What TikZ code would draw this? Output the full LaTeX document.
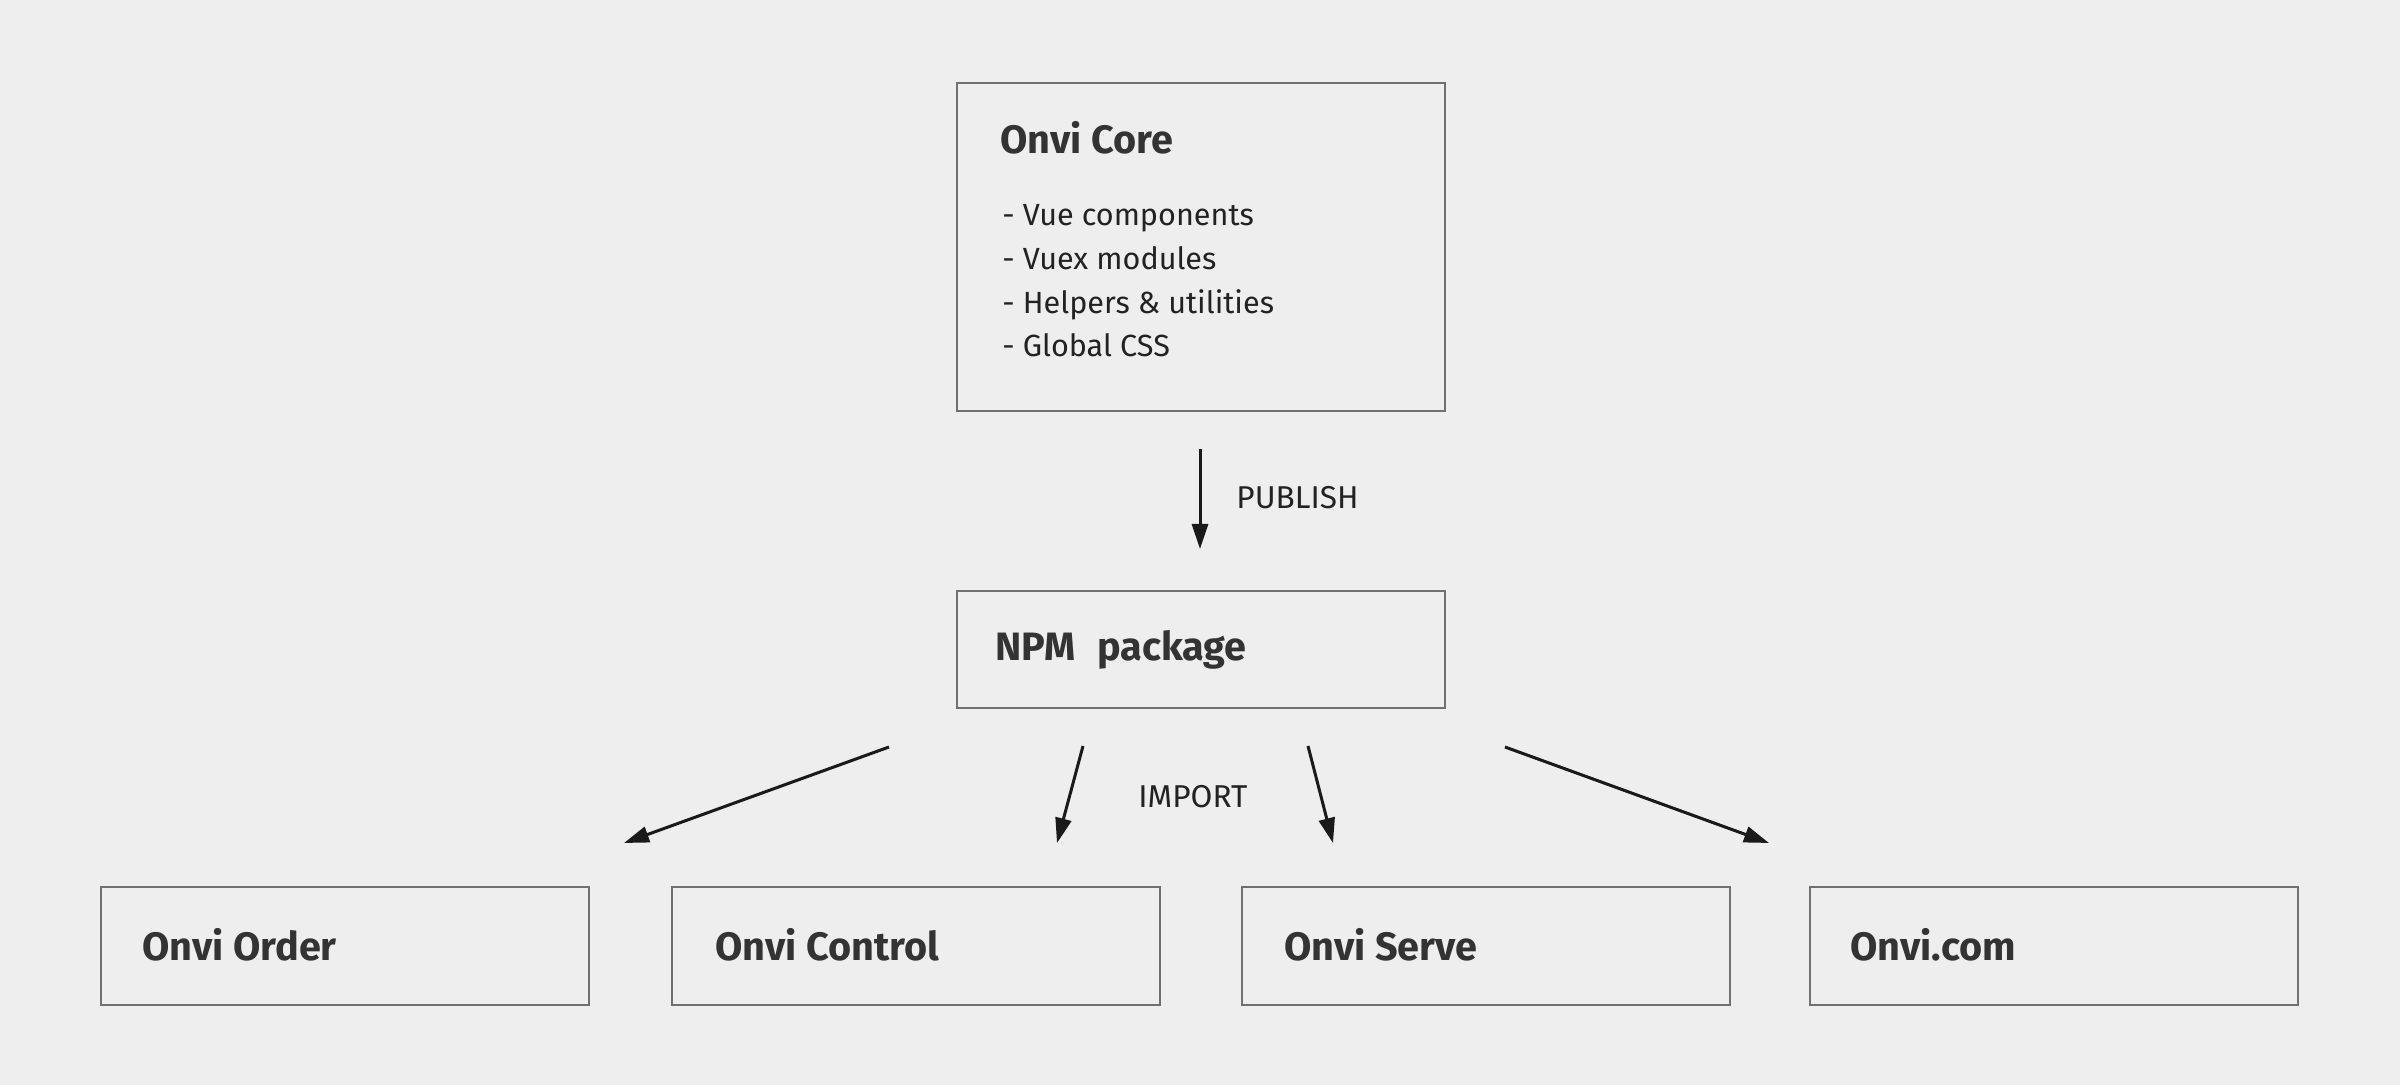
\documentclass[tikz,border=0pt]{standalone}
\usepackage{fontspec}
\setmainfont{Fira Sans}
\usetikzlibrary{arrows.meta}
\definecolor{bg}{HTML}{EEEEEE}
\definecolor{boxgray}{HTML}{707070}
\definecolor{titlecol}{HTML}{333333}
\definecolor{textcol}{HTML}{222222}
\definecolor{arrowcol}{HTML}{1A1A1A}
\tikzset{
  box/.style={draw=boxgray, line width=0.85pt, rectangle, minimum width=244pt, inner sep=0pt, anchor=north west},
  titletext/.style={anchor=base west, inner sep=0pt, text=titlecol, font=\fontsize{19.8}{23}\selectfont\bfseries},
  listtext/.style={anchor=base west, inner sep=0pt, text=textcol, font=\fontsize{15.3}{20}\selectfont},
  labeltext/.style={anchor=base west, inner sep=0pt, text=textcol, font=\fontsize{15.8}{20}\selectfont},
  conn/.style={draw=arrowcol, line width=1.5pt, -{Triangle[length=12.5pt,width=8pt]}}
}
\begin{document}
\begin{tikzpicture}[x=0.5pt,y=-0.5pt]
\fill[bg] (0,0) rectangle (2400,1085);
\useasboundingbox (0,0) rectangle (2400,1085);

% boxes
\node[box, minimum height=164pt] (core) at (956,82) {};
\node[box, minimum height=58.5pt] (npm) at (956,590) {};
\node[box, minimum height=59pt] (order) at (100,886) {};
\node[box, minimum height=59pt] (control) at (671,886) {};
\node[box, minimum height=59pt] (serve) at (1241,886) {};
\node[box, minimum height=59pt] (com) at (1809,886) {};

% texts
\node[titletext] (coret) at (1000,154) {Onvi Core};
\node[listtext] (l1) at (1002,226) {- Vue components};
\node[listtext] (l2) at (1002,270) {- Vuex modules};
\node[listtext] (l3) at (1002,314) {- Helpers \& utilities};
\node[listtext] (l4) at (1002,357) {- Global CSS};
\node[titletext] (npmt) at (995,661) {NPM\hspace{0.55em}package};
\node[titletext] (ordert) at (142,960) {Onvi Order};
\node[titletext] (controlt) at (715,960) {Onvi Control};
\node[titletext] (servet) at (1284,960) {Onvi Serve};
\node[titletext] (comt) at (1850,960) {Onvi.com};
\node[labeltext] (pub) at (1236,509) {PUBLISH};
\node[labeltext] (imp) at (1138,807) {IMPORT};

% connector endpoints
\coordinate (ps) at (1200,449);
\coordinate (pe) at (1200,549);
\coordinate (a1s) at (889,747);
\coordinate (a1e) at (624,843);
\coordinate (a2s) at (1083,746);
\coordinate (a2e) at (1057,843);
\coordinate (a3s) at (1308,746);
\coordinate (a3e) at (1333,843);
\coordinate (a4s) at (1505,747);
\coordinate (a4e) at (1769,843);

\draw[conn] (ps) -- (pe);
\draw[conn] (a1s) -- (a1e);
\draw[conn] (a2s) -- (a2e);
\draw[conn] (a3s) -- (a3e);
\draw[conn] (a4s) -- (a4e);
\end{tikzpicture}
\end{document}
